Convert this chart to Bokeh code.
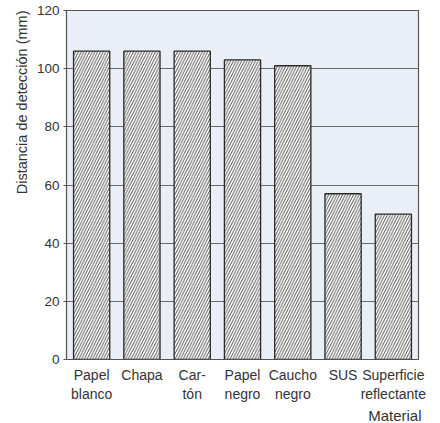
from bokeh.plotting import figure
from bokeh.models import FixedTicker, Range1d, Title
from bokeh.embed import file_html
from bokeh.resources import INLINE

materials = ["Papel\nblanco", "Chapa", "Car-\ntón", "Papel\nnegro", "Caucho\nnegro", "SUS", "Superficie\nreflectante"]
distances = [106, 106, 106, 103, 101, 57, 50]
y_ticks = [0, 20, 40, 60, 80, 100, 120]
y_title = "Distancia de detección (mm)"
x_title = "Material"

xs = list(range(1, len(materials) + 1))

p = figure(width=440, height=423, output_backend="svg", toolbar_location=None,
           x_range=Range1d(0.5, len(materials) + 0.5), y_range=Range1d(0, 120),
           min_border_left=66, min_border_right=22, min_border_top=10, min_border_bottom=61)

p.background_fill_color = "#e9eef7"
p.border_fill_color = "white"
p.outline_line_color = "#555555"
p.outline_line_width = 1.2

p.vbar(x=xs, top=distances, width=0.72, bottom=0,
       fill_color="white", line_color="#2a2a2a", line_width=1.3,
       hatch_pattern="/", hatch_color="#222222", hatch_scale=5.5, hatch_weight=0.8)

font = "Liberation Sans"
p.xgrid.visible = False
p.ygrid.ticker = FixedTicker(ticks=[20, 40, 60, 80, 100])
p.ygrid.grid_line_color = "#6a6a6a"
p.ygrid.grid_line_width = 1.2

p.yaxis.ticker = FixedTicker(ticks=y_ticks)
p.yaxis.axis_line_color = None
p.yaxis.major_tick_out = 3
p.yaxis.major_tick_in = 0
p.yaxis.major_tick_line_color = "#555555"
p.yaxis.minor_tick_line_color = None
p.yaxis.major_label_text_font = font
p.yaxis.major_label_text_font_size = "13.5px"
p.yaxis.major_label_text_color = "#333333"
p.yaxis.major_label_standoff = 4

p.xaxis.ticker = FixedTicker(ticks=xs)
p.xaxis.major_label_overrides = {x: m for x, m in zip(xs, materials)}
p.xaxis.axis_line_color = None
p.xaxis.major_tick_line_color = None
p.xaxis.major_tick_out = 0
p.xaxis.major_tick_in = 0
p.xaxis.minor_tick_line_color = None
p.xaxis.major_label_text_font = font
p.xaxis.major_label_text_font_size = "14px"
p.xaxis.major_label_text_color = "#333333"
p.xaxis.major_label_standoff = 7

p.add_layout(Title(text=y_title, align="right", text_font=font, text_font_size="14.5px",
                   text_font_style="normal", text_color="#333333", standoff=8), "left")
p.add_layout(Title(text=x_title, align="right", text_font=font, text_font_size="15px",
                   text_font_style="normal", text_color="#333333", standoff=0, offset=-3), "below")

open("out.html", "w").write(file_html(p, INLINE))
